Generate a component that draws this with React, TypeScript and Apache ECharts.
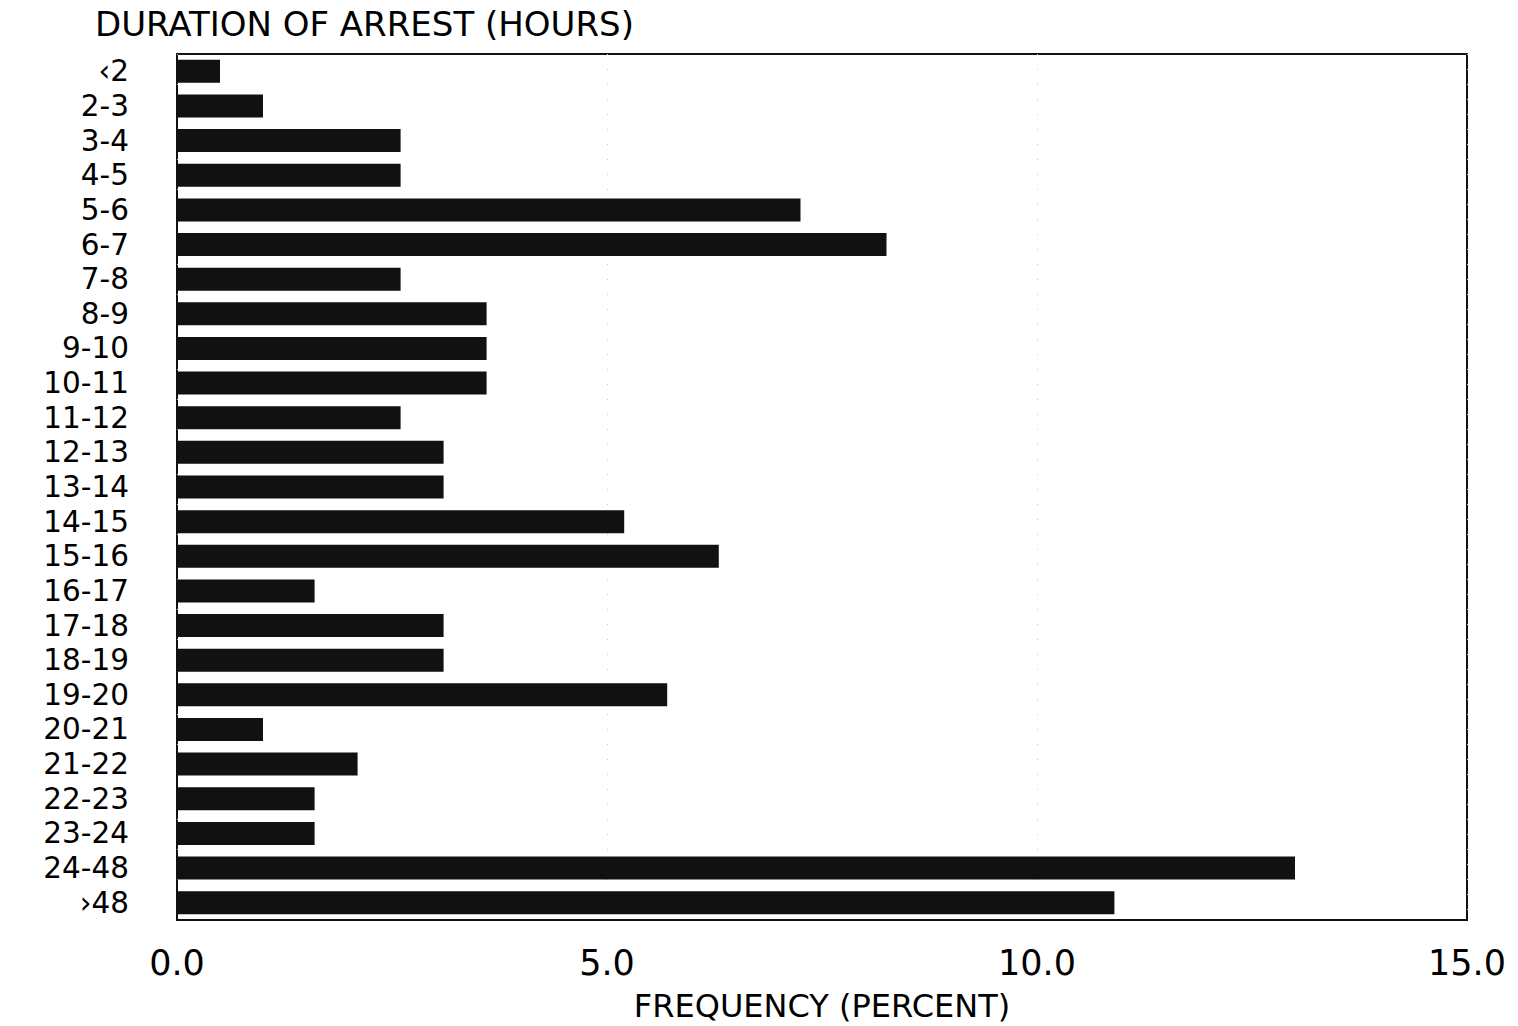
import React, { useEffect, useRef } from "react";
import * as echarts from "echarts";

const categories = [
  "‹2", "2-3", "3-4", "4-5", "5-6", "6-7", "7-8", "8-9", "9-10", "10-11",
  "11-12", "12-13", "13-14", "14-15", "15-16", "16-17", "17-18", "18-19",
  "19-20", "20-21", "21-22", "22-23", "23-24", "24-48", "›48",
];
const frequency = [
  0.5, 1.0, 2.6, 2.6, 7.25, 8.25, 2.6, 3.6, 3.6, 3.6,
  2.6, 3.1, 3.1, 5.2, 6.3, 1.6, 3.1, 3.1,
  5.7, 1.0, 2.1, 1.6, 1.6, 13.0, 10.9,
];
const xTicks = [0, 5, 10, 15];
const titleText = "DURATION OF ARREST (HOURS)";
const xName = "FREQUENCY (PERCENT)";

const FONT = "DejaVu Sans";

export default function App() {
  const ref = useRef<HTMLDivElement>(null);
  useEffect(() => {
    document.body.style.margin = "0";
    const chart = echarts.init(ref.current!, null, { renderer: "svg" });
    chart.setOption({
      animation: false,
      backgroundColor: "#ffffff",
      title: {
        text: titleText,
        left: 90,
        top: 2,
        textStyle: { fontFamily: FONT, fontSize: 34, fontWeight: "normal", color: "#000" },
      },
      grid: {
        left: 177,
        right: 51,
        top: 54,
        bottom: 106,
        outerBoundsMode: "none",
        containLabel: false,
        show: true,
        borderColor: "#111",
        borderWidth: 2,
        backgroundColor: "transparent",
      },
      xAxis: {
        type: "value",
        min: xTicks[0],
        max: xTicks[xTicks.length - 1],
        interval: 5,
        name: xName,
        nameLocation: "middle",
        nameGap: 70,
        nameTextStyle: { fontFamily: FONT, fontSize: 32, color: "#000" },
        axisLine: { show: false },
        axisTick: { show: false },
        axisLabel: {
          margin: 25,
          fontFamily: FONT,
          fontSize: 35,
          color: "#000",
          formatter: (v: number) => v.toFixed(1),
        },
        splitLine: {
          show: true,
          lineStyle: { color: "#c8c8c8", type: [1, 14], width: 1 },
        },
      },
      yAxis: {
        type: "category",
        data: categories,
        inverse: true,
        axisLine: { show: false },
        axisTick: { show: false },
        axisLabel: {
          interval: 0,
          margin: 48,
          fontFamily: FONT,
          fontSize: 29.5,
          lineHeight: 32,
          color: "#000",
        },
        splitLine: { show: false },
      },
      series: [
        {
          type: "bar",
          data: frequency,
          barWidth: 23,
          itemStyle: { color: "#111" },
        },
      ],
    });
    return () => chart.dispose();
  }, []);
  return (
    <div
      ref={ref}
      style={{ position: "fixed", left: 0, top: 0, width: 1518, height: 1026 }}
    />
  );
}
